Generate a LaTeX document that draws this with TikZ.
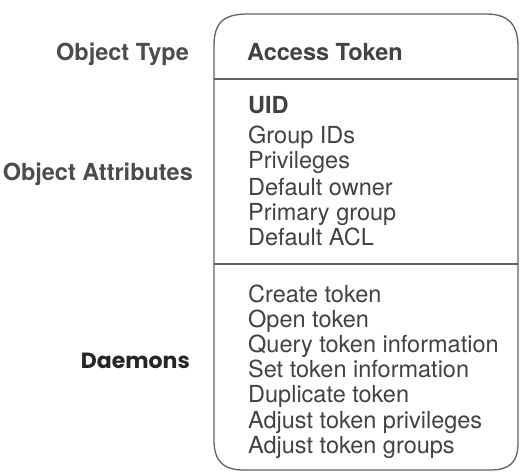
\documentclass[tikz,border=0pt]{standalone}
\usepackage{fontspec}
\setmainfont{TeX Gyre Heros}
\newfontfamily\geofont{Poppins}
\begin{document}
\begin{tikzpicture}[x=1pt,y=-1pt,
  txt/.style={anchor=base west,inner sep=0pt,text=black!74,font=\fontsize{23.5}{25}\selectfont},
  btxt/.style={txt,font=\fontsize{23.5}{25}\selectfont\bfseries,text=black!74},
  lbl/.style={anchor=base east,inner sep=0pt,text=black!70,font=\fontsize{23.5}{25}\selectfont\bfseries},
  frame/.style={draw=black!62,line width=1.3pt}]
\useasboundingbox (0,0) rectangle (520,475);
\fill[white] (0,0) rectangle (520,475);
% box
\draw[frame] (214,46) .. controls (214,22) and (224,14) .. (248,14)
  -- (486,14) .. controls (508,14) and (518,24) .. (518,47)
  -- (518,443) .. controls (518,462) and (510,470) .. (490,470)
  -- (244,470) .. controls (224,470) and (214,462) .. (214,440) -- cycle;
\coordinate (d1l) at (214,79); \coordinate (d1r) at (518,79);
\coordinate (d2l) at (214,264); \coordinate (d2r) at (518,264);
\draw[frame] (d1l) -- (d1r);
\draw[frame] (d2l) -- (d2r);
% left labels
\node[lbl] (ot) at (189,60) {Object Type};
\node[lbl] (oa) at (193,180) {Object Attributes};
\node[lbl,font=\geofont\fontsize{22}{24}\selectfont\bfseries,text=black!85] (dm) at (190,368) {Daemons};
% type
\node[btxt] (at) at (247,60) {Access Token};
% attributes
\node[btxt] (uid) at (248,113) {UID};
\node[txt] (a1) at (248,143) {Group IDs};
\node[txt] (a2) at (248,168) {Privileges};
\node[txt] (a3) at (248,195) {Default owner};
\node[txt] (a4) at (248,220) {Primary group};
\node[txt] (a5) at (248,245) {Default ACL};
% daemons
\node[txt] (b1) at (248,302) {Create token};
\node[txt] (b2) at (248,327) {Open token};
\node[txt] (b3) at (248,352) {Query token information};
\node[txt] (b4) at (248,377) {Set token information};
\node[txt] (b5) at (248,402) {Duplicate token};
\node[txt] (b6) at (248,428) {Adjust token privileges};
\node[txt] (b7) at (248,453) {Adjust token groups};
\end{tikzpicture}
\end{document}
